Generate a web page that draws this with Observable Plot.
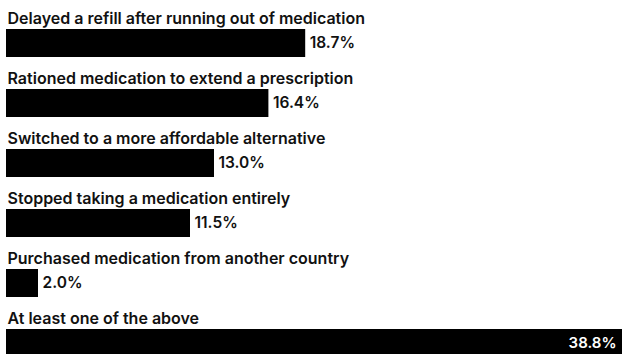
<!DOCTYPE html>
<html><head><meta charset="utf-8">
<script src="https://cdn.jsdelivr.net/npm/d3@7"></script>
<script src="https://cdn.jsdelivr.net/npm/@observablehq/plot@0.6"></script>
<style>
html,body{margin:0;padding:0;background:#fff;}
#chart svg{display:block;}
</style>
</head><body><div id="chart"></div>
<script>
const categories = [
  "Delayed a refill after running out of medication",
  "Rationed medication to extend a prescription",
  "Switched to a more affordable alternative",
  "Stopped taking a medication entirely",
  "Purchased medication from another country",
  "At least one of the above"
];
const values = [18.7, 16.4, 13.0, 11.5, 2.0, 38.8];
const labels = ["18.7%", "16.4%", "13.0%", "11.5%", "2.0%", "38.8%"];

const data = categories.map((c, i) => ({cat: c, v: values[i], label: labels[i], inside: i === categories.length - 1}));

const font = "Inter, 'Noto Sans', sans-serif";
const chart = Plot.plot({
  width: 622,
  height: 354,
  marginLeft: 6, marginRight: 0, marginTop: 0, marginBottom: 0,
  style: {fontFamily: font, background: "#fff", overflow: "hidden"},
  x: {domain: [0, 38.5], range: [6, 622], clamp: true, axis: null},
  y: {domain: categories, range: [-1, 359], padding: 0, axis: null},
  marks: [
    Plot.barX(data, {x: "v", y: "cat", fill: "#000", insetTop: 30, insetBottom: 2}),
    Plot.text(data, {x: 0, y: "cat", text: "cat", textAnchor: "start", lineAnchor: "bottom", dy: -6, dx: 1, fontSize: 16, fontWeight: 600, fill: "#111"}),
    Plot.text(data.filter(d => !d.inside), {x: "v", y: "cat", text: "label", textAnchor: "start", lineAnchor: "middle", dy: 14, dx: 4, fontSize: 15.5, fontWeight: 600, fill: "#111"}),
    Plot.text(data.filter(d => d.inside), {x: "v", y: "cat", text: "label", textAnchor: "end", lineAnchor: "middle", dy: 14, dx: -6, fontSize: 15, fontWeight: 600, fill: "#fff"})
  ]
});
document.getElementById("chart").append(chart);
</script>
</body></html>
